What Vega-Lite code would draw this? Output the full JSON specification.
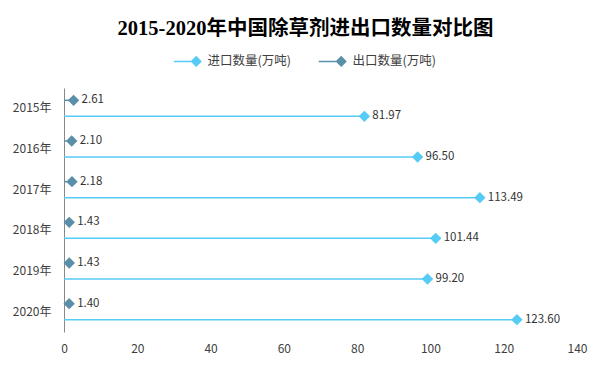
{
  "$schema": "https://vega.github.io/schema/vega-lite/v6.json",
  "width": 513,
  "height": 244,
  "autosize": {"type": "none"},
  "padding": {"left": 64, "top": 88, "right": 36, "bottom": 37},
  "background": "white",
  "config": {"view": {"stroke": null}},
  "title": {
    "text": "2015-2020年中国除草剂进出口数量对比图",
    "font": "Liberation Serif, Noto Sans CJK SC",
    "fontSize": 20.5,
    "fontWeight": "bold",
    "color": "#000000",
    "anchor": "middle",
    "frame": "group",
    "dx": -15,
    "offset": 16
  },
  "data": {
    "values": [
      {"year": "2015年", "series": "进口数量(万吨)", "value": 81.97},
      {"year": "2015年", "series": "出口数量(万吨)", "value": 2.61},
      {"year": "2016年", "series": "进口数量(万吨)", "value": 96.50},
      {"year": "2016年", "series": "出口数量(万吨)", "value": 2.10},
      {"year": "2017年", "series": "进口数量(万吨)", "value": 113.49},
      {"year": "2017年", "series": "出口数量(万吨)", "value": 2.18},
      {"year": "2018年", "series": "进口数量(万吨)", "value": 101.44},
      {"year": "2018年", "series": "出口数量(万吨)", "value": 1.43},
      {"year": "2019年", "series": "进口数量(万吨)", "value": 99.20},
      {"year": "2019年", "series": "出口数量(万吨)", "value": 1.43},
      {"year": "2020年", "series": "进口数量(万吨)", "value": 123.60},
      {"year": "2020年", "series": "出口数量(万吨)", "value": 1.40}
    ]
  },
  "encoding": {
    "y": {
      "field": "year",
      "type": "nominal",
      "sort": null,
      "scale": {"paddingInner": 0, "paddingOuter": 0},
      "axis": {
        "title": null,
        "ticks": false,
        "domain": true,
        "domainColor": "#888888",
        "domainWidth": 1,
        "labelFont": "Noto Sans CJK SC",
        "labelFontSize": 12,
        "labelColor": "#404040",
        "labelPadding": 13
      }
    },
    "yOffset": {
      "field": "series",
      "type": "nominal",
      "sort": ["出口数量(万吨)", "进口数量(万吨)"],
      "scale": {"paddingInner": 0, "paddingOuter": 0.27}
    },
    "color": {
      "field": "series",
      "type": "nominal",
      "scale": {
        "domain": ["进口数量(万吨)", "出口数量(万吨)"],
        "range": ["#56CBF5", "#5A8FAA"]
      },
      "legend": {
        "title": null,
        "orient": "none",
        "direction": "horizontal",
        "legendX": 126,
        "legendY": -33,
        "padding": 0,
        "symbolType": "M-4.5,0H0M-0.9,0L0,-0.9L0.9,0L0,0.9Z",
        "symbolSize": 100,
        "symbolStrokeWidth": 1.5,
        "labelFont": "Noto Sans CJK SC",
        "labelFontSize": 12.5,
        "labelColor": "#404040",
        "labelOffset": 5,
        "columnPadding": 24,
        "encode": {
          "symbols": {
            "update": {
              "stroke": {"scale": "color", "field": "value"},
              "fill": {"scale": "color", "field": "value"},
              "strokeWidth": {"value": 1.5},
              "opacity": {"value": 1}
            }
          }
        }
      }
    }
  },
  "layer": [
    {
      "mark": {"type": "rule", "strokeWidth": 1.5},
      "encoding": {
        "x": {
          "field": "value",
          "type": "quantitative",
          "scale": {"domain": [0, 140], "nice": false, "padding": 0},
          "axis": {
            "title": null,
            "values": [0, 20, 40, 60, 80, 100, 120, 140],
            "domain": false,
            "ticks": false,
            "grid": false,
            "labelFlush": false,
            "labelFont": "Noto Sans CJK SC",
            "labelFontSize": 12,
            "labelColor": "#404040",
            "labelPadding": 11
          }
        },
        "x2": {"datum": 0}
      }
    },
    {
      "mark": {"type": "point", "shape": "diamond", "filled": true, "size": 130, "opacity": 1},
      "encoding": {
        "x": {"field": "value", "type": "quantitative"}
      }
    },
    {
      "mark": {
        "type": "text",
        "align": "left",
        "baseline": "middle",
        "dx": 8,
        "font": "Noto Sans CJK SC",
        "fontSize": 11.5
      },
      "encoding": {
        "x": {"field": "value", "type": "quantitative"},
        "text": {"field": "value", "type": "quantitative", "format": ".2f"},
        "color": {"value": "#333333"}
      }
    }
  ]
}
